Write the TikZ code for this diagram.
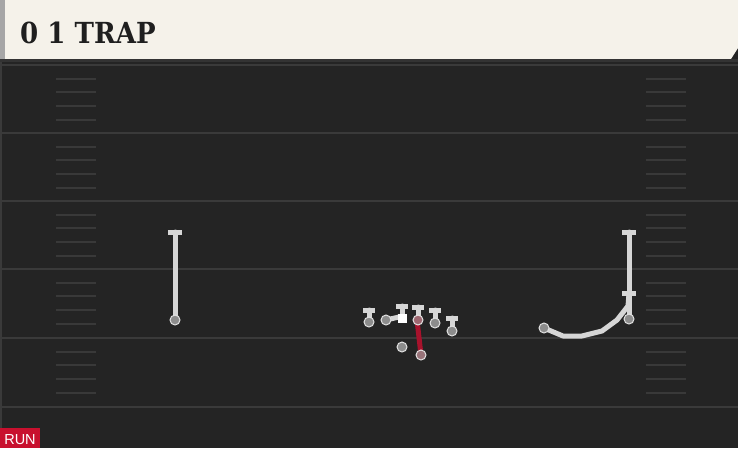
\documentclass[tikz,border=0pt]{standalone}
\usepackage{fontspec}
\setmainfont{DejaVu Serif}
\newfontfamily\labelfont{Liberation Sans}
\definecolor{fieldgray}{HTML}{242424}
\definecolor{linegray}{HTML}{3A3A3A}
\definecolor{hashgray}{HTML}{393939}
\definecolor{headcream}{HTML}{F5F2EA}
\definecolor{routegray}{HTML}{D6D6D6}
\definecolor{dotgray}{HTML}{8C8C8C}
\definecolor{runred}{HTML}{C8102E}
\definecolor{routered}{HTML}{A8122C}
\tikzset{
  route/.style={line width=5pt, draw=routegray, line cap=round, line join=round},
  redroute/.style={line width=5pt, draw=routered, line cap=round},
  blockbar/.style={line width=5pt, draw=routegray},
  player/.style={circle, fill=dotgray, draw=routegray!70, line width=1pt, minimum size=10pt, inner sep=0pt},
  snapper/.style={rectangle, fill=white, minimum size=9pt, inner sep=0pt},
}
\begin{document}
\begin{tikzpicture}[x=1pt, y=-1pt]
            \useasboundingbox (0,0) rectangle (738,448);

            % Draw the field
            \fill[fieldgray] (0,0) rectangle (738,448);
            \fill[linegray] (0,60) rectangle (2,448);
            \foreach \yl in {65,133,201,269,338,407} {
                \draw[linegray, line width=2.5pt] (0,\yl) -- (738,\yl);
            }

            % Draw the hash marks
            \foreach \yl in {65,133,201,269,338} {
                \foreach \dy in {14,27,41,55} {
                    \draw[hashgray, line width=2pt] (56,\yl+\dy) -- (96,\yl+\dy);
                    \draw[hashgray, line width=2pt] (646,\yl+\dy) -- (686,\yl+\dy);
                }
            }

            % Draw the header
            \fill[headcream] (0,0) -- (738,0) -- (738,48) -- (731,59) -- (0,59) -- cycle;
            \fill[black!35] (0,0) rectangle (5,59);
            \fill[black!80] (0,59) rectangle (738,62);
            \node[anchor=base west, inner sep=0pt, xscale=0.9, font=\bfseries\fontsize{29}{29}\selectfont, text=black!88] (title) at (20,43) {0 1 TRAP};

            % Name the players
            \coordinate (lwr) at (175,320);
            \coordinate (lt) at (369,322);
            \coordinate (lg) at (386,320);
            \coordinate (ctr) at (402,318);
            \coordinate (rg) at (418,320);
            \coordinate (rt) at (435,323);
            \coordinate (te) at (452,331);
            \coordinate (qb) at (402,347);
            \coordinate (rb) at (421,355);
            \coordinate (slot) at (544,328);
            \coordinate (rwr) at (629,319);

            % Name the route ends
            \coordinate (lwrend) at (175,232);
            \coordinate (ltend) at (369,310);
            \coordinate (lgend) at (399,317);
            \coordinate (ctrend) at (402,306);
            \coordinate (rgend) at (418,307);
            \coordinate (rtend) at (435,310);
            \coordinate (teend) at (452,318);
            \coordinate (rbend) at (417,320);
            \coordinate (slotend) at (629,293);
            \coordinate (rwrend) at (629,232);

            % Draw the routes
            \draw[route] (lwr) -- (lwrend);
            \draw[blockbar] ([xshift=-7pt]lwrend) -- ([xshift=7pt]lwrend);
            \draw[route] (rwr) -- (rwrend);
            \draw[blockbar] ([xshift=-7pt]rwrend) -- ([xshift=7pt]rwrend);
            \draw[route] (slot) -- (563,336) -- (582,336) -- (602,331) -- (617,320) -- (628,306) -- (slotend);
            \draw[blockbar] ([xshift=-7pt]slotend) -- ([xshift=7pt]slotend);
            \foreach \p in {lt,ctr,rg,rt,te} {
                \draw[route] (\p) -- (\p end);
                \draw[blockbar] ([xshift=-6pt]\p end) -- ([xshift=6pt]\p end);
            }
            \draw[route] (lg) -- (lgend);
            \draw[redroute] (rb) -- (rbend);

            % Draw the players
            \foreach \p in {lwr,lt,lg,rt,te,qb,slot,rwr} {
                \node[player] (\p dot) at (\p) {};
            }
            \node[player, fill=dotgray!70!runred] (rgdot) at (rg) {};
            \node[player, fill=dotgray!80!runred] (rbdot) at (rb) {};
            \node[snapper] (ctrbox) at (ctr) {};

            % Draw the play type
            \fill[runred] (0,428) rectangle (40,448);
            \node[anchor=base, inner sep=0pt, text=white, font=\labelfont\fontsize{14.5}{14.5}\selectfont] (runlabel) at (20,444) {RUN};
        \end{tikzpicture}
\end{document}
